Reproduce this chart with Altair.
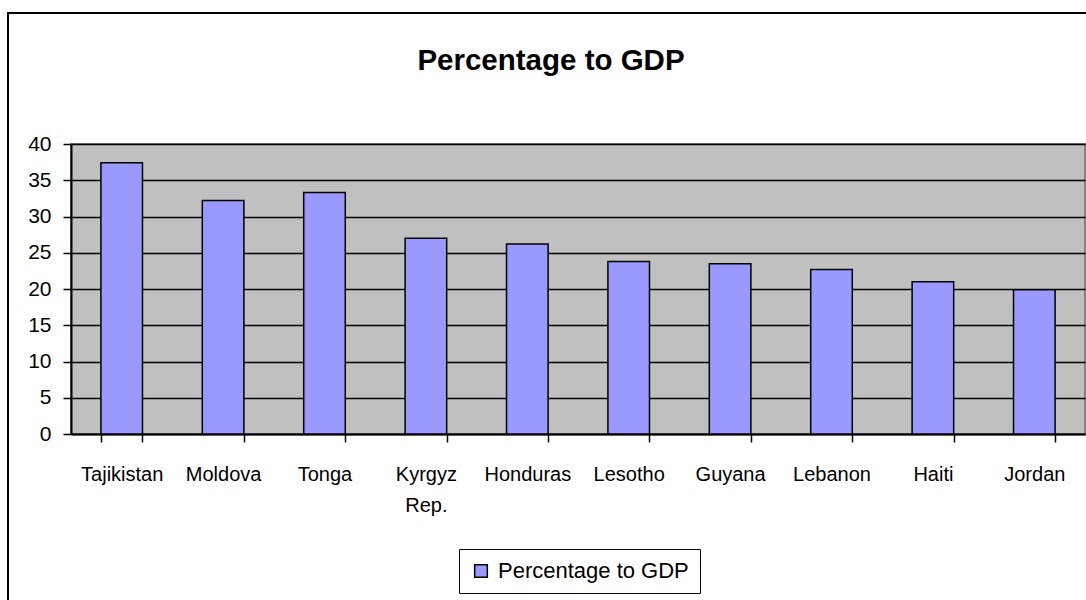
import altair as alt
import pandas as pd

countries = ["Tajikistan", "Moldova", "Tonga", "Kyrgyz Rep.", "Honduras",
             "Lesotho", "Guyana", "Lebanon", "Haiti", "Jordan"]
values = [37.4, 32.2, 33.3, 27.0, 26.2, 23.8, 23.5, 22.7, 21.0, 19.9]
series_name = "Percentage to GDP"

df = pd.DataFrame({"country": countries, "value": values, "series": [series_name] * len(countries)})

FONT = "Liberation Sans, Arial, sans-serif"

frame = alt.Chart(pd.DataFrame({"a": [0]})).mark_rect(
    fill=None, stroke="black", strokeWidth=2
).encode(
    x=alt.value(-63), x2=alt.value(1040),
    y=alt.value(-131), y2=alt.value(500)
)

bars = alt.Chart(df).mark_bar(stroke="black", strokeWidth=1.5).encode(
    x=alt.X("country:N", sort=countries,
            scale=alt.Scale(paddingInner=0.59, paddingOuter=0.295),
            axis=alt.Axis(title=None, labelAngle=0, tickBand="extent",
                          labelExpr="datum.value == 'Kyrgyz Rep.' ? ['Kyrgyz', 'Rep.'] : datum.value",
                          labelFont=FONT, labelFontSize=20, labelColor="black",
                          labelPadding=38, labelLineHeight=31, labelBaseline="alphabetic",
                          domainColor="black", domainWidth=2,
                          tickColor="black", tickWidth=1.5, tickSize=8, grid=False)),
    y=alt.Y("value:Q", scale=alt.Scale(domain=[0, 40], nice=False),
            axis=alt.Axis(title=None, values=list(range(0, 41, 5)),
                          labelFont=FONT, labelFontSize=21, labelColor="black",
                          labelPadding=12,
                          domainColor="black", domainWidth=2,
                          tickColor="black", tickWidth=1.5, tickSize=8,
                          grid=True, gridColor="black", gridWidth=1.5)),
    color=alt.Color("series:N", scale=alt.Scale(range=["#9999FF"]),
                    legend=alt.Legend(title=None, orient="none", legendX=388, legendY=405,
                                      symbolType="square", symbolSize=160,
                                      symbolStrokeColor="black", symbolStrokeWidth=1.5,
                                      labelFont=FONT, labelFontSize=22, labelColor="black",
                                      labelLimit=400,
                                      strokeColor="black", fillColor="white",
                                      padding=11, labelOffset=6))
)

chart = alt.layer(frame, bars).properties(
    width=1014, height=290,
    padding={"left": 71, "top": 144, "right": 1, "bottom": 166},
    autosize=alt.AutoSizeParams(type="none"),
    background="white",
    title=alt.TitleParams(series_name, font=FONT, fontSize=29.5, fontWeight="bold",
                          color="black", anchor="middle", dx=-27, offset=0, dy=87,
                          baseline="alphabetic")
).configure_view(fill="#C0C0C0", stroke="#808080", strokeWidth=2)

chart.save("out.html", embed_options={"renderer": "svg", "actions": False})
